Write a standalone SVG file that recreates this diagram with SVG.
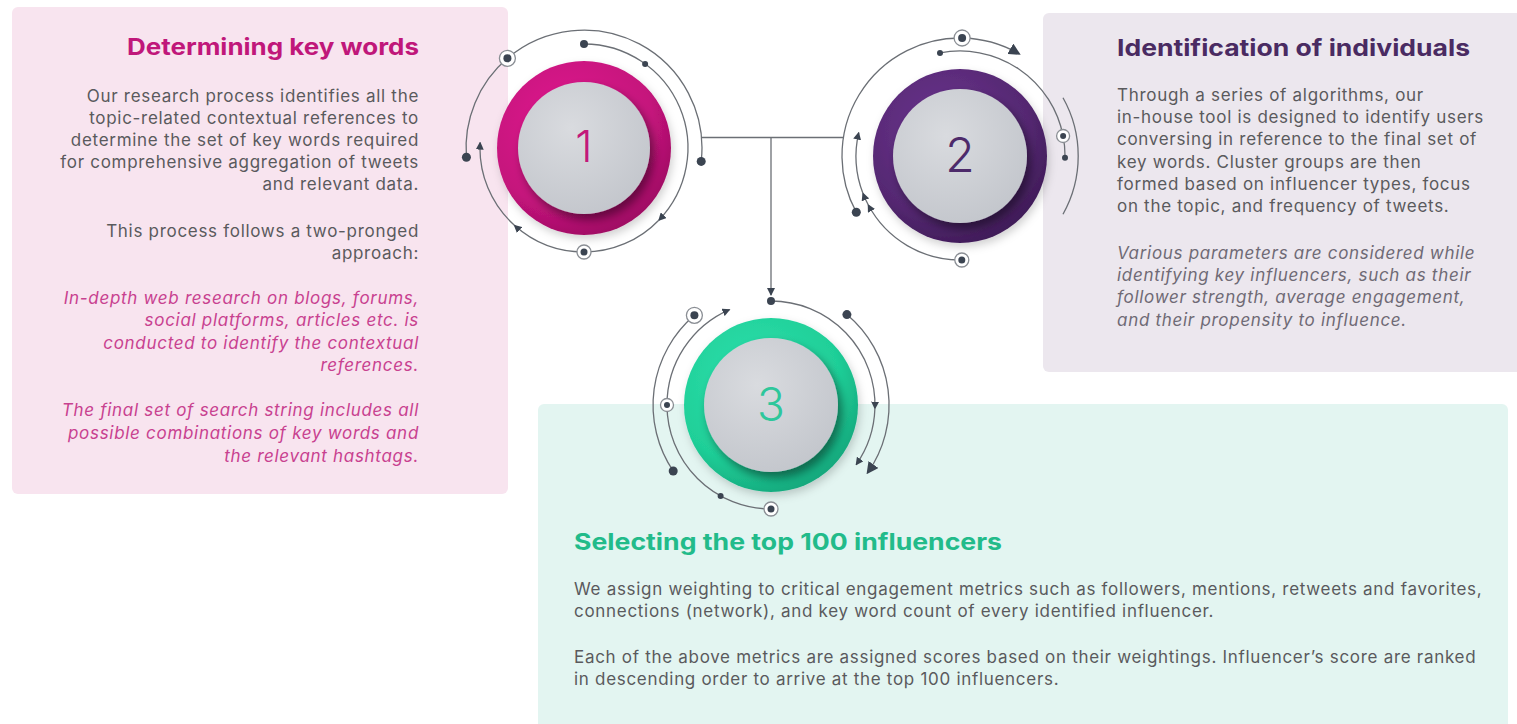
<svg xmlns="http://www.w3.org/2000/svg" width="1517" height="724" viewBox="0 0 1517 724">
<defs>
<style>
.t{font-family:Inter,"Noto Sans","Liberation Sans",sans-serif;font-size:17px;letter-spacing:0.7px;fill:#5a5a5d}
.h{font-family:Inter,"Noto Sans","Liberation Sans",sans-serif;font-size:23px;font-weight:700}
.i{font-style:italic}
.e{text-anchor:end}
.num{font-family:Inter,"Noto Sans","Liberation Sans",sans-serif;font-weight:300;text-anchor:middle}
.ln{fill:none;stroke:#6b6f75;stroke-width:1.3}
.dot{fill:#3b4451}
.dd{fill:#fff;stroke:#8a8e94;stroke-width:1.3}
</style>
<marker id="ar" viewBox="0 0 8 8" refX="7" refY="4" markerWidth="8" markerHeight="8" markerUnits="userSpaceOnUse" orient="auto"><path d="M0,0 L8,4 L0,8 z" fill="#3b4451"/></marker>
<marker id="arb" viewBox="0 0 12 12" refX="10" refY="6" markerWidth="12" markerHeight="12" markerUnits="userSpaceOnUse" orient="auto"><path d="M0,0 L12,6 L0,12 z" fill="#3b4451"/></marker>
<filter id="sh" x="-30%" y="-30%" width="160%" height="160%"><feDropShadow dx="4" dy="6" stdDeviation="5" flood-color="#000" flood-opacity="0.45"/></filter>
<filter id="sh2" x="-30%" y="-30%" width="160%" height="160%"><feDropShadow dx="2" dy="4" stdDeviation="4" flood-color="#000" flood-opacity="0.18"/></filter>
<radialGradient id="g1" cx="40%" cy="35%" r="70%"><stop offset="0" stop-color="#e01d8f"/><stop offset="0.7" stop-color="#c5137c"/><stop offset="1" stop-color="#9a0d60"/></radialGradient>
<radialGradient id="g2" cx="40%" cy="35%" r="70%"><stop offset="0" stop-color="#6c3590"/><stop offset="0.7" stop-color="#552872"/><stop offset="1" stop-color="#3d1a55"/></radialGradient>
<radialGradient id="g3" cx="40%" cy="35%" r="70%"><stop offset="0" stop-color="#2fe0ad"/><stop offset="0.7" stop-color="#1fcf98"/><stop offset="1" stop-color="#13a379"/></radialGradient>
<radialGradient id="gg" cx="40%" cy="35%" r="70%"><stop offset="0" stop-color="#d9dbdf"/><stop offset="1" stop-color="#c3c6cc"/></radialGradient>
</defs>

<rect width="1517" height="724" fill="#fff"/>

<g id="card1">
<rect x="12" y="7" width="496" height="487" rx="6" fill="#f8e4ef"/>
<text class="h e" x="419" y="55" fill="#c0177a" textLength="292" lengthAdjust="spacingAndGlyphs">Determining key words</text>
<text class="t e" x="419" y="102">Our research process identifies all the</text>
<text class="t e" x="419" y="124">topic-related contextual references to</text>
<text class="t e" x="419" y="146">determine the set of key words required</text>
<text class="t e" x="419" y="168">for comprehensive aggregation of tweets</text>
<text class="t e" x="419" y="190">and relevant data.</text>
<text class="t e" x="419" y="237">This process follows a two-pronged</text>
<text class="t e" x="419" y="259">approach:</text>
<text class="t e i" x="419" y="304" style="fill:#c8418f">In-depth web research on blogs, forums,</text>
<text class="t e i" x="419" y="326" style="fill:#c8418f">social platforms, articles etc. is</text>
<text class="t e i" x="419" y="349" style="fill:#c8418f">conducted to identify the contextual</text>
<text class="t e i" x="419" y="371" style="fill:#c8418f">references.</text>
<text class="t e i" x="419" y="416" style="fill:#c8418f">The final set of search string includes all</text>
<text class="t e i" x="419" y="439" style="fill:#c8418f">possible combinations of key words and</text>
<text class="t e i" x="419" y="462" style="fill:#c8418f">the relevant hashtags.</text>
</g>

<g id="card2">
<rect x="1043" y="13" width="490" height="359" rx="6" fill="#ece7ee"/>
<text class="h" x="1117" y="56" fill="#4a2b62" textLength="353" lengthAdjust="spacingAndGlyphs">Identification of individuals</text>
<text class="t" x="1117" y="101">Through a series of algorithms, our</text>
<text class="t" x="1117" y="123">in-house tool is designed to identify users</text>
<text class="t" x="1117" y="145">conversing in reference to the final set of</text>
<text class="t" x="1117" y="168">key words. Cluster groups are then</text>
<text class="t" x="1117" y="190">formed based on influencer types, focus</text>
<text class="t" x="1117" y="212">on the topic, and frequency of tweets.</text>
<text class="t i" x="1117" y="259" style="fill:#6f6a75">Various parameters are considered while</text>
<text class="t i" x="1117" y="281" style="fill:#6f6a75">identifying key influencers, such as their</text>
<text class="t i" x="1117" y="303" style="fill:#6f6a75">follower strength, average engagement,</text>
<text class="t i" x="1117" y="326" style="fill:#6f6a75">and their propensity to influence.</text>
</g>

<g id="card3">
<rect x="538" y="404" width="970" height="340" rx="6" fill="#e3f5f1"/>
<text class="h" x="574" y="550" fill="#22bb8a" textLength="428" lengthAdjust="spacingAndGlyphs">Selecting the top 100 influencers</text>
<text class="t" x="574" y="595">We assign weighting to critical engagement metrics such as followers, mentions, retweets and favorites,</text>
<text class="t" x="574" y="617">connections (network), and key word count of every identified influencer.</text>
<text class="t" x="574" y="663">Each of the above metrics are assigned scores based on their weightings. Influencer’s score are ranked</text>
<text class="t" x="574" y="685">in descending order to arrive at the top 100 influencers.</text>
</g>

<g id="connectors">
<path class="ln" d="M702,137.5 H843.5"/>
<path class="ln" d="M771,137.5 V295" marker-end="url(#ar)"/>
</g>

<g id="badge1">
<circle cx="584" cy="148" r="87" fill="url(#g1)" filter="url(#sh2)"/>
<circle cx="584" cy="148" r="66" fill="url(#gg)" filter="url(#sh)"/>
<text class="num" x="584" y="162" font-size="44" fill="#c2187a">1</text>
<path class="ln" d="M507.4,58.3 A118,118 0 0 0 466.4,157.3"/>
<path class="ln" d="M507.4,58.3 A118,118 0 0 1 701.2,161.4"/>
<path class="ln" d="M584,44 A104,104 0 0 1 658.8,220.2" marker-end="url(#ar)"/>
<path class="ln" d="M658.8,220.2 A104,104 0 0 1 584,252"/>
<path class="ln" d="M584,252 A104,104 0 0 1 514.4,225.3" marker-end="url(#ar)"/>
<path class="ln" d="M514.4,225.3 A104,104 0 0 1 480.1,142.6" marker-end="url(#ar)"/>
<circle class="dot" cx="466.4" cy="157.3" r="4.5"/>
<circle class="dot" cx="701.2" cy="161.4" r="4.5"/>
<circle class="dot" cx="584" cy="44" r="4"/>
<circle class="dot" cx="645.1" cy="63.9" r="3"/>
<circle class="dd" cx="507.4" cy="58.3" r="8"/><circle class="dot" cx="507.4" cy="58.3" r="4"/>
<circle class="dd" cx="584" cy="252" r="7"/><circle class="dot" cx="584" cy="252" r="3.5"/>
</g>

<g id="badge2">
<circle cx="960" cy="156" r="87" fill="url(#g2)" filter="url(#sh2)"/>
<circle cx="960" cy="156" r="67" fill="url(#gg)" filter="url(#sh)"/>
<text class="num" x="960" y="172" font-size="48" fill="#4d2a6a">2</text>
<path class="ln" d="M962.1,38 A118,118 0 0 0 856.3,212.3"/>
<path class="ln" d="M962.1,38 A118,118 0 0 1 1019,53.8" marker-end="url(#arb)"/>
<path class="ln" d="M1063,97.8 A119,119 0 0 1 1063,214.2"/>
<path class="ln" d="M940,52.9 A105,105 0 0 1 1063.1,136 A105,105 0 0 1 1065,157.8"/>
<path class="ln" d="M961.8,260 A104,104 0 0 1 868.2,204.8" marker-end="url(#ar)"/>
<path class="ln" d="M868.2,204.8 A104,104 0 0 1 862.9,193.3" marker-end="url(#ar)"/>
<path class="ln" d="M862.9,193.3 A104,104 0 0 1 858.7,132.6" marker-end="url(#ar)"/>
<circle class="dot" cx="856.3" cy="212.3" r="4.5"/>
<circle class="dot" cx="940" cy="52.9" r="3"/>
<circle class="dot" cx="1065" cy="157.8" r="3"/>
<circle class="dd" cx="962.1" cy="38" r="8"/><circle class="dot" cx="962.1" cy="38" r="4"/>
<circle class="dd" cx="1063.1" cy="136" r="6.5"/><circle class="dot" cx="1063.1" cy="136" r="3"/>
<circle class="dd" cx="961.8" cy="260" r="7"/><circle class="dot" cx="961.8" cy="260" r="3.5"/>
</g>

<g id="badge3">
<circle cx="771" cy="405" r="87" fill="url(#g3)" filter="url(#sh2)"/>
<circle cx="771" cy="405" r="67" fill="url(#gg)" filter="url(#sh)"/>
<text class="num" x="771" y="421" font-size="46" fill="#2ec79b">3</text>
<path class="ln" d="M771,301 A104,104 0 0 1 874.9,408.6" marker-end="url(#ar)"/>
<path class="ln" d="M874.9,408.6 A104,104 0 0 1 856.2,464.7" marker-end="url(#ar)"/>
<path class="ln" d="M846.9,314.6 A118,118 0 0 1 867.7,472.7" marker-end="url(#arb)"/>
<path class="ln" d="M667,405 A104,104 0 0 1 729.5,309.6" marker-end="url(#ar)"/>
<path class="ln" d="M667,405 A104,104 0 0 0 771,509"/>
<path class="ln" d="M694.4,315.3 A118,118 0 0 0 673.2,471"/>
<circle class="dot" cx="771" cy="301" r="4"/>
<circle class="dot" cx="846.9" cy="314.6" r="4.5"/>
<circle class="dot" cx="673.2" cy="471" r="4.5"/>
<circle class="dot" cx="720.6" cy="496" r="3"/>
<circle class="dd" cx="694.4" cy="315.3" r="8"/><circle class="dot" cx="694.4" cy="315.3" r="4"/>
<circle class="dd" cx="667" cy="405" r="6.5"/><circle class="dot" cx="667" cy="405" r="3"/>
<circle class="dd" cx="771" cy="509" r="7"/><circle class="dot" cx="771" cy="509" r="3.5"/>
</g>
</svg>
